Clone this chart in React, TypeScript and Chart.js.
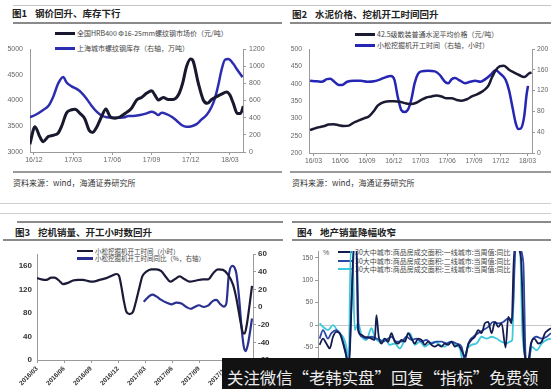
import React, { useEffect, useRef } from "react";
import { Chart, registerables } from "chart.js";

Chart.register(...registerables);

const CJK = '"Noto Sans CJK SC", "Noto Sans", sans-serif';
const SANS = '"Liberation Sans", Arial, sans-serif';

// ---------- Figure 1: rebar price & Shanghai rebar stock ----------
const steelTickMonths = [0, 3, 6, 9, 12, 15];
const steelTickLabels = ["16/12", "17/03", "17/06", "17/09", "17/12", "18/03"];
const steelLeftTicks = [3000, 3500, 4000, 4500, 5000];
const steelRightTicks = [0, 200, 400, 600, 800, 1000, 1200];
const rebarPriceMonths = [-0.31, 0.08, 0.46, 0.71, 1.1, 1.48, 1.86, 2.12, 2.5, 2.88, 3.14, 3.52, 3.9, 4.23, 4.49, 4.8, 5.18, 5.51, 5.82, 6.2, 6.58, 7.09, 7.47, 7.86, 8.24, 8.62, 9.01, 9.26, 9.52, 9.9, 10.28, 10.66, 11.05, 11.38, 11.68, 11.99, 12.19, 12.58, 12.96, 13.27, 13.6, 13.98, 14.36, 14.74, 15.0, 15.26, 15.56, 15.82, 16.02];
const rebarPrice = [3150, 3490, 3290, 3200, 3300, 3325, 3370, 3500, 3760, 3820, 3830, 3750, 3640, 3420, 3380, 3480, 3690, 3835, 3690, 3655, 3680, 3770, 3850, 4010, 4060, 4140, 4190, 4105, 4010, 4060, 4020, 4020, 4105, 4335, 4660, 4805, 4760, 4335, 4010, 3945, 4020, 4075, 4125, 4165, 4105, 3945, 3750, 3750, 3890];
const rebarStockMonths = [-0.31, 0.2, 0.71, 1.1, 1.48, 1.86, 2.24, 2.5, 2.88, 3.27, 3.65, 4.03, 4.41, 4.8, 5.18, 5.56, 6.07, 6.58, 6.96, 7.22, 7.6, 8.11, 8.62, 9.01, 9.26, 9.52, 9.77, 10.15, 10.54, 10.92, 11.3, 11.68, 12.07, 12.45, 12.83, 13.21, 13.6, 13.85, 14.11, 14.36, 14.62, 14.87, 15.26, 15.56, 15.97];
const rebarStock = [405, 440, 490, 535, 645, 800, 875, 810, 765, 735, 690, 620, 540, 470, 425, 405, 400, 400, 405, 418, 418, 430, 450, 470, 457, 430, 457, 442, 410, 365, 315, 293, 300, 325, 380, 430, 528, 625, 780, 958, 1075, 1083, 1028, 958, 872];

// ---------- Figure 2: cement price & excavator hours ----------
const cementTickMonths = [0, 3, 6, 9, 12, 15, 18, 21, 24];
const cementTickLabels = ["16/03", "16/06", "16/09", "16/12", "17/03", "17/06", "17/09", "17/12", "18/03"];
const cementLeftTicks = [200, 250, 300, 350, 400, 450, 500];
const cementRightTicks = [0, 40, 80, 120, 160, 200];
const cementMonths = [-0.38, 0.38, 1.13, 1.7, 2.27, 2.83, 3.4, 3.97, 4.54, 5.1, 5.67, 6.24, 6.8, 7.18, 7.56, 7.94, 8.5, 9.07, 9.64, 10.39, 10.96, 11.53, 12.09, 12.66, 13.23, 13.79, 14.36, 14.93, 15.5, 16.06, 16.63, 17.2, 17.76, 18.33, 18.9, 19.27, 19.65, 20.03, 20.41, 20.86, 21.35, 21.92, 22.49, 23.05, 23.62, 24.19, 24.45];
const cementPrice = [266, 273, 277, 282, 283, 280, 278, 279, 288, 294, 300, 306, 322, 336, 343, 347, 349, 349, 348, 343, 341, 345, 353, 360, 363, 366, 363, 358, 358, 353, 351, 355, 363, 369, 377, 384, 396, 419, 438, 450, 452, 440, 432, 425, 419, 430, 432];
const excavatorMonths = [-0.38, 0.38, 0.94, 1.51, 1.89, 2.27, 2.83, 3.21, 3.78, 4.54, 5.29, 6.05, 6.8, 7.56, 8.13, 8.69, 9.07, 9.45, 9.83, 10.2, 10.58, 10.96, 11.34, 11.72, 12.09, 12.85, 13.61, 14.17, 14.74, 15.12, 15.5, 15.87, 16.44, 17.01, 17.57, 18.14, 18.71, 19.27, 19.84, 20.41, 20.98, 21.54, 21.92, 22.3, 22.68, 22.98, 23.24, 23.62, 23.89, 24.05];
const excavatorHours = [139, 138, 137, 142, 143, 138, 131, 131, 137, 139, 139, 137, 138, 142, 146, 148, 141, 108, 83, 79, 83, 102, 134, 152, 157, 158, 157, 150, 137, 134, 142, 144, 139, 134, 137, 139, 137, 142, 150, 159, 152, 141, 121, 89, 57, 46, 47, 70, 112, 129];

// ---------- Figure 3: Komatsu excavator working hours ----------
const komatsuTickMonths = [0, 3, 6, 9, 12, 15, 18, 21, 24];
const komatsuTickLabels = ["2016/03", "2016/06", "2016/09", "2016/12", "2017/03", "2017/06", "2017/09", "2017/12", "2018/03"];
const komatsuLeftTicks = [0, 20, 40, 60, 80, 100, 120, 140, 160, 180];
const komatsuRightTicks = [-60, -40, -20, 0, 20, 40, 60];
const hoursMonths = [0, 0.48, 1.04, 1.59, 1.96, 2.44, 2.89, 3.44, 4.0, 4.56, 5.11, 5.67, 6.22, 6.96, 7.7, 8.44, 8.81, 9.11, 9.37, 9.63, 9.93, 10.3, 10.67, 11.04, 11.41, 11.7, 12.15, 12.7, 13.26, 13.81, 14.37, 14.81, 15.3, 15.85, 16.41, 16.96, 17.7, 18.44, 19.0, 19.56, 20.11, 20.67, 21.22, 21.78, 22.15, 22.44, 22.7, 22.89, 23.07, 23.33, 23.63, 23.89];
const hoursValues = [139, 137, 136, 140, 140, 135, 129, 131, 135, 136, 136, 134, 133, 136, 139, 144, 146, 143, 125, 102, 82, 78, 82, 102, 125, 142, 150, 154, 154, 151, 140, 133, 137, 142, 137, 133, 135, 137, 137, 147, 154, 153, 145, 128, 105, 80, 58, 46, 45, 62, 95, 126];
const yoyMonths = [11.85, 12.33, 12.81, 13.26, 13.81, 14.37, 14.93, 15.48, 16.04, 16.59, 17.04, 17.52, 18.0, 18.52, 19.0, 19.56, 19.93, 20.3, 20.74, 21.04, 21.3, 21.7, 21.93, 22.15, 22.44, 22.7, 22.96, 23.19, 23.44, 23.7, 23.89];
const yoyValues = [6, 11, 14, 12, 8, 5, 3, 5, 4, 0, -2, 0, 2, 0, 1.5, 7, 8, 4, 0.5, 4, 35, 46.5, 45, 38, 12, -20, -44, -50, -42, -26, -13];

// ---------- Figure 4: 30 cities property sales YoY ----------
const propertyTicks = [-100, -50, 0, 50, 100, 150];
const tier1Weeks = [0.5, 1.5, 2.5, 3.5, 4.5, 5.5, 6.5, 7.5, 8.5, 9.2, 10.8, 11.5, 12, 13, 14, 15, 16, 17, 17.5, 18.2, 19, 20, 21, 22, 23, 24, 25, 26, 27, 28, 29, 30, 31, 32, 33, 34, 35, 36, 37, 38, 39, 40, 41, 42, 43, 44, 45, 46, 47, 48, 49, 50, 51, 52, 53, 54, 55, 56.2, 57, 58, 58.8, 59.8, 60.8, 61.8, 62.8, 63.8, 64.8, 66, 67, 68, 69, 69.8];
const tier1Yoy = [-44, -30, -41, -52, -26, -15, -18, -41, -70, -90, 170, 170, -11, -22, -26, -27, -30, -33, 22, -26, -41, -30, -37, -18, -37, -41, -33, -37, -18, -30, -41, -30, -33, -44, -37, -44, -48, -44, -48, -41, -44, -37, -48, -44, -56, -70, -44, -33, -26, -11, -18, 4, 7, -18, 7, -4, 4, -50, 18, 4, 170, 170, 150, -56, -85, -41, -30, -41, -37, -18, -11, -7];
const tier2Weeks = [0.5, 1.5, 3, 4, 5.5, 7, 8.2, 9, 11, 11.6, 12.2, 13.2, 14.5, 16, 17.5, 18.5, 19.5, 21, 22, 23.5, 25, 26.5, 28, 29.5, 31, 32.5, 34, 35.5, 37, 38.5, 40, 41.5, 43, 44, 45, 46.5, 48, 49.5, 51, 52.5, 54, 55.5, 57, 58.2, 59.2, 60.2, 61.5, 62.2, 63, 64, 65.5, 67, 68.5, 69.8];
const tier2Yoy = [-30, -11, -30, -18, -11, -26, -56, -90, 170, 170, -11, -26, -30, -26, -30, -33, -37, -30, -26, -37, -37, -26, -33, -30, -37, -33, -41, -37, -37, -41, -37, -41, -48, -78, -41, -26, -18, -11, -4, 7, 4, 7, 15, 11, 170, 170, 140, -70, -90, -37, -26, -30, -26, -18];
const tier3Weeks = [0.5, 1.5, 3, 4.5, 6, 7.5, 8.5, 9.2, 9.8, 10.3, 11, 12, 13.2, 14.5, 16, 17, 18.5, 20, 21.5, 23, 24.5, 26, 27.5, 29, 30.5, 32, 33.5, 35, 36.5, 38, 39.5, 41, 42.5, 43.5, 44.5, 46, 47.5, 49, 50.5, 52, 53.5, 55, 56.5, 57.5, 58.2, 59, 60.5, 61.2, 62, 63, 64, 65.5, 67, 68.5, 69.8];
const tier3Yoy = [4, -4, -11, 0, -15, -26, -48, -85, 170, 170, -11, 4, -26, -33, -7, -26, -37, -30, -44, -41, -52, -33, -18, -44, -37, -48, -41, -37, -44, -48, -37, -44, -52, -85, -56, -44, -41, -26, -30, -26, -30, -37, -41, -37, -33, 170, 170, -11, -70, -85, -48, -56, -41, -33, -30];

const pts = (xs: number[], ys: number[]) => xs.map((x, i) => ({ x, y: ys[i] }));

function lineDs(label: string, xs: number[], ys: number[], color: string, width: number, axis: string) {
  return {
    label,
    data: pts(xs, ys),
    borderColor: color,
    backgroundColor: color,
    borderWidth: width,
    pointRadius: 0,
    cubicInterpolationMode: "monotone",
    fill: false,
    yAxisID: axis,
    clip: 0,
  };
}

function xAxis(min: number, max: number, vals: number[], labels: string[], height: number, font: any, color: string, rotation = 0, padding = 1) {
  return {
    type: "linear",
    min,
    max,
    afterBuildTicks: (s: any) => {
      s.ticks = vals.map((v) => ({ value: v }));
    },
    afterFit: (s: any) => {
      s.height = height;
    },
    grid: { drawOnChartArea: false, tickLength: 3, color: "#9a9a9a" },
    border: { color: "#9a9a9a", width: 1 },
    ticks: {
      autoSkip: false,
      minRotation: rotation,
      maxRotation: rotation,
      padding,
      font,
      color,
      callback: (v: number) => {
        const i = vals.indexOf(v);
        return i >= 0 ? labels[i] : "";
      },
    },
  };
}

function yAxis(position: string, min: number, max: number, vals: number[], width: number, font: any, color: string, tickLength: number, padding: number) {
  return {
    type: "linear",
    position,
    min,
    max,
    afterBuildTicks: (s: any) => {
      s.ticks = vals.map((v) => ({ value: v }));
    },
    afterFit: (s: any) => {
      s.width = width;
    },
    grid: { drawOnChartArea: false, drawTicks: tickLength > 0, tickLength, color: "#9a9a9a" },
    border: { color: "#9a9a9a", width: 1 },
    ticks: { font, color, padding, callback: (v: number) => String(v) },
  };
}

const baseOptions = (padding: any) => ({
  animation: false,
  responsive: false,
  maintainAspectRatio: false,
  layout: { padding },
  plugins: { legend: { display: false }, tooltip: { enabled: false } },
});

function config1(): any {
  const f = { family: SANS, size: 7 };
  return {
    type: "line",
    data: {
      datasets: [
        lineDs("全国HRB400 Φ16-25mm螺纹钢市场价（元/吨）", rebarPriceMonths, rebarPrice, "#18182e", 3, "y"),
        lineDs("上海城市螺纹钢库存（右轴，万吨）", rebarStockMonths, rebarStock, "#2d2db0", 2.5, "y1"),
      ],
    },
    options: {
      ...baseOptions({ top: 19, left: 0, right: 0, bottom: 0 }),
      scales: {
        x: xAxis(-0.3, 16.0, steelTickMonths, steelTickLabels, 18, f, "#666"),
        y: yAxis("left", 3000, 5000, steelLeftTicks, 30, f, "#666", 0, 7),
        y1: yAxis("right", 0, 1200, steelRightTicks, 32, f, "#666", 3, 3),
      },
    },
  };
}

function config2(): any {
  const f = { family: SANS, size: 6.8 };
  return {
    type: "line",
    data: {
      datasets: [
        lineDs("42.5级散装普通水泥平均价格（元/吨）", cementMonths, cementPrice, "#1a1a33", 2.5, "y"),
        lineDs("小松挖掘机开工时间（右轴，小时）", excavatorMonths, excavatorHours, "#2626b4", 2.5, "y1"),
      ],
    },
    options: {
      ...baseOptions({ top: 19, left: 0, right: 0, bottom: 0 }),
      scales: {
        x: xAxis(-0.5, 24.5, cementTickMonths, cementTickLabels, 17, f, "#666"),
        y: yAxis("left", 200, 500, cementLeftTicks, 34, f, "#666", 0, 7),
        y1: yAxis("right", 0, 200, cementRightTicks, 19, f, "#666", 3, 2),
      },
    },
  };
}

function config3(): any {
  const f = { family: SANS, size: 8, weight: "bold" };
  const fx = { family: SANS, size: 6.5, weight: "bold" };
  return {
    type: "line",
    data: {
      datasets: [
        lineDs("小松挖掘机开工时间（小时）", hoursMonths, hoursValues, "#1b1b38", 2.2, "y"),
        lineDs("小松挖掘机开工时间同比（%，右轴）", yoyMonths, yoyValues, "#2a3090", 2.2, "y1"),
      ],
    },
    options: {
      ...baseOptions({ top: 14, left: 0, right: 0, bottom: 0 }),
      scales: {
        x: xAxis(0, 24, komatsuTickMonths, komatsuTickLabels, 29, fx, "#333", 45, 2),
        y: yAxis("left", 0, 180, komatsuLeftTicks, 37, f, "#333", 0, 5),
        y1: yAxis("right", -60, 60, komatsuRightTicks, 22, f, "#333", 3, 2),
      },
    },
  };
}

function config4(): any {
  const f = { family: SANS, size: 6.5 };
  return {
    type: "line",
    data: {
      datasets: [
        lineDs("30大中城市:商品房成交面积:一线城市:当周值:同比", tier1Weeks, tier1Yoy, "#141c50", 1.8, "y"),
        lineDs("30大中城市:商品房成交面积:二线城市:当周值:同比", tier2Weeks, tier2Yoy, "#2a48a8", 1.8, "y"),
        lineDs("30大中城市:商品房成交面积:三线城市:当周值:同比", tier3Weeks, tier3Yoy, "#3ec8dc", 1.8, "y"),
      ],
    },
    options: {
      ...baseOptions({ top: 11, left: 0, right: 0, bottom: 19 }),
      scales: {
        x: { type: "linear", min: 0, max: 69.8, display: false },
        y: {
          type: "linear",
          position: "left",
          min: -100,
          max: 165,
          afterBuildTicks: (s: any) => {
            s.ticks = propertyTicks.map((v) => ({ value: v }));
          },
          afterFit: (s: any) => {
            s.width = 43;
          },
          grid: {
            drawOnChartArea: true,
            tickLength: 3,
            tickColor: "#9a9a9a",
            color: (ctx: any) => (ctx.tick && ctx.tick.value === 0 ? "#c8c8c8" : "rgba(0,0,0,0)"),
          },
          border: { color: "#9a9a9a", width: 1 },
          ticks: { font: f, color: "#555", padding: 2, callback: (v: number) => String(v) },
        },
      },
    },
  };
}

function HLine({ x1, x2, y, th = 1, color = "#bbb" }: any) {
  return <div style={{ position: "absolute", left: x1, top: y - th / 2, width: x2 - x1, height: th, background: color }} />;
}

function Txt({ x, y, size, color = "#333", weight = "normal", family = CJK, children }: any) {
  const h = Math.round(size * 1.4);
  return (
    <div
      style={{
        position: "absolute",
        left: x,
        top: y - h / 2,
        height: h,
        lineHeight: `${h}px`,
        fontSize: size,
        color,
        fontWeight: weight,
        fontFamily: family,
        whiteSpace: "nowrap",
      }}
    >
      {children}
    </div>
  );
}

function Legend({ x1, x2, y, th, color, tx, size, text }: any) {
  return (
    <>
      <HLine x1={x1} x2={x2} y={y} th={th} color={color} />
      <Txt x={tx} y={y} size={size} color="#444">
        {text}
      </Txt>
    </>
  );
}

function Title({ x, y, num, text }: any) {
  return (
    <Txt x={x} y={y} size={9.5} color="#222" weight="bold">
      <span>{num}</span>
      <span style={{ marginLeft: 8 }}>{text}</span>
    </Txt>
  );
}

export default function App() {
  const r1 = useRef<HTMLCanvasElement>(null);
  const r2 = useRef<HTMLCanvasElement>(null);
  const r3 = useRef<HTMLCanvasElement>(null);
  const r4 = useRef<HTMLCanvasElement>(null);

  useEffect(() => {
    const charts = [
      new Chart(r1.current as HTMLCanvasElement, config1()),
      new Chart(r2.current as HTMLCanvasElement, config2()),
      new Chart(r3.current as HTMLCanvasElement, config3()),
      new Chart(r4.current as HTMLCanvasElement, config4()),
    ];
    return () => charts.forEach((c) => c.destroy());
  }, []);

  return (
    <div style={{ position: "fixed", left: 0, top: 0, width: 551, height: 389, background: "#fff", overflow: "hidden", fontFamily: CJK }}>
      {/* frame lines */}
      <HLine x1={13} x2={551} y={5} th={1} color="#c4c4c4" />
      <HLine x1={13} x2={282} y={23} th={2} color="#8a8a8a" />
      <HLine x1={290} x2={551} y={23} th={2} color="#8a8a8a" />
      <HLine x1={13} x2={282} y={172} th={2} color="#9a9a9a" />
      <HLine x1={290} x2={551} y={172} th={2} color="#9a9a9a" />
      <HLine x1={0} x2={551} y={203} th={1} color="#cfcfcf" />
      <HLine x1={0} x2={551} y={213} th={1} color="#cfcfcf" />
      <HLine x1={17} x2={283} y={222} th={1.5} color="#8a8a8a" />
      <HLine x1={292} x2={551} y={222} th={1.5} color="#8a8a8a" />
      <HLine x1={3} x2={283} y={240} th={2} color="#8a8a8a" />
      <HLine x1={292} x2={551} y={240} th={2} color="#8a8a8a" />

      {/* titles */}
      <Title x={12} y={13} num="图1" text="钢价回升、库存下行" />
      <Title x={292} y={14} num="图2" text="水泥价格、挖机开工时间回升" />
      <Title x={15} y={232} num="图3" text="挖机销量、开工小时数回升" />
      <Title x={297} y={232} num="图4" text="地产销量降幅收窄" />

      {/* sources */}
      <Txt x={13} y={182} size={8} color="#333">资料来源：wind，海通证券研究所</Txt>
      <Txt x={292} y={182} size={8} color="#333">资料来源：wind，海通证券研究所</Txt>

      {/* legends */}
      <Legend x1={55} x2={75} y={33} th={3} color="#18182e" tx={77} size={7} text="全国HRB400 Φ16-25mm螺纹钢市场价（元/吨）" />
      <Legend x1={55} x2={75} y={48} th={3} color="#2d2db0" tx={77} size={7} text="上海城市螺纹钢库存（右轴，万吨）" />
      <Legend x1={355} x2={375} y={34} th={3} color="#1a1a33" tx={377} size={7} text="42.5级散装普通水泥平均价格（元/吨）" />
      <Legend x1={355} x2={375} y={45} th={3} color="#2626b4" tx={377} size={7} text="小松挖掘机开工时间（右轴，小时）" />
      <Legend x1={77} x2={93} y={251} th={2.5} color="#1b1b38" tx={95} size={6.5} text="小松挖掘机开工时间（小时）" />
      <Legend x1={77} x2={93} y={258.5} th={2.5} color="#2a3090" tx={95} size={6.5} text="小松挖掘机开工时间同比（%，右轴）" />
      <Legend x1={338} x2={353} y={252} th={2.5} color="#141c50" tx={355} size={7} text="30大中城市:商品房成交面积:一线城市:当周值:同比" />
      <Legend x1={338} x2={353} y={261} th={2.5} color="#2a48a8" tx={355} size={7} text="30大中城市:商品房成交面积:二线城市:当周值:同比" />
      <Legend x1={338} x2={353} y={269} th={2.5} color="#3ec8dc" tx={355} size={7} text="30大中城市:商品房成交面积:三线城市:当周值:同比" />
      <Txt x={323} y={253} size={7} color="#555" family={SANS}>%</Txt>

      {/* charts */}
      <canvas ref={r1} width={275} height={140} style={{ position: "absolute", left: 0, top: 30 }} />
      <canvas ref={r2} width={276} height={140} style={{ position: "absolute", left: 275, top: 30 }} />
      <canvas ref={r3} width={275} height={149} style={{ position: "absolute", left: 0, top: 240 }} />
      <canvas ref={r4} width={276} height={149} style={{ position: "absolute", left: 275, top: 240 }} />

      {/* overlay banner */}
      <div style={{ position: "absolute", left: 222, top: 358, width: 329, height: 31, background: "#121212" }} />
      <Txt x={227} y={377.5} size={16.4} color="#ececec">关注微信“老韩实盘”回复“指标”免费领</Txt>
    </div>
  );
}
